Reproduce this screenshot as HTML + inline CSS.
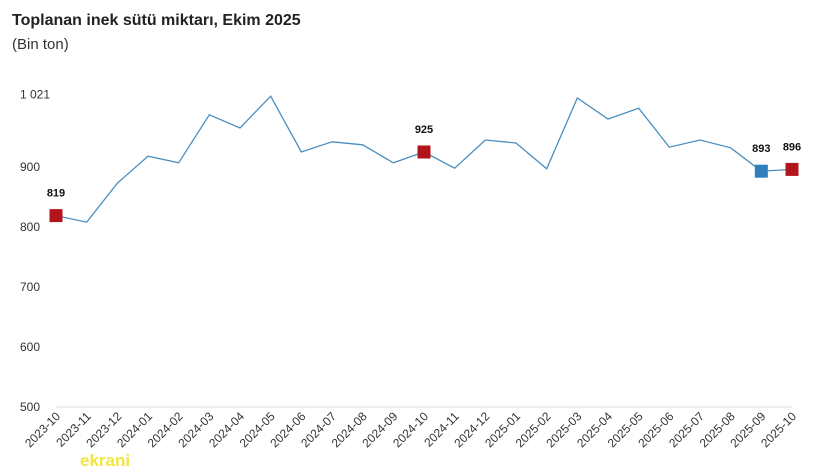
<!DOCTYPE html>
<html><head><meta charset="utf-8"><style>
body{margin:0;background:#fff;font-family:"Liberation Sans",sans-serif;}
</style></head><body>
<svg width="820" height="471" xmlns="http://www.w3.org/2000/svg">
<text x="12" y="25" font-size="16" font-weight="bold" fill="#222">Toplanan inek sütü miktarı, Ekim 2025</text>
<text x="12" y="49" font-size="15" fill="#333">(Bin ton)</text>
<g id="yaxis"></g>
<g id="xaxis"></g>
<g id="plot"></g>
<text x="80" y="466" font-size="17" font-weight="bold" fill="#f0e020" opacity="0.85">ekrani</text>
</svg>
<script>
const categories=["2023-10","2023-11","2023-12","2024-01","2024-02","2024-03","2024-04","2024-05","2024-06","2024-07","2024-08","2024-09","2024-10","2024-11","2024-12","2025-01","2025-02","2025-03","2025-04","2025-05","2025-06","2025-07","2025-08","2025-09","2025-10"];
const values=[819,808,873,918,907,987,965,1018,925,942,937,907,925,898,945,940,897,1015,980,998,933,945,932,893,896];
const yTicks=[500,600,700,800,900,1021];
const yTickLabels=["500","600","700","800","900","1 021"];
const highlighted=[0,12,23,24];
const NS="http://www.w3.org/2000/svg";
const x0=56,x1=792,yMin=500,yMax=1021,py0=407,py1=94.4;
const X=i=>x0+(x1-x0)*i/(categories.length-1);
const Y=v=>py0+(py1-py0)*(v-yMin)/(yMax-yMin);
function mk(tag,attrs,parent){const e=document.createElementNS(NS,tag);for(const k in attrs)e.setAttribute(k,attrs[k]);parent.appendChild(e);return e;}
const ya=document.getElementById('yaxis'),xa=document.getElementById('xaxis'),pl=document.getElementById('plot');
yTicks.forEach((t,i)=>{const e=mk('text',{x:20,y:Y(t)+4,'font-size':12,fill:'#333'},ya);e.textContent=yTickLabels[i];

});
const base=mk('line',{x1:x0,x2:x1,y1:py0,y2:py0,stroke:'#ddd'},xa);


categories.forEach((c,i)=>{const x=X(i);const e=mk('text',{x:x+5,y:py0+10,'font-size':12,fill:'#333','text-anchor':'end',transform:`rotate(-45 ${x+5} ${py0+10})`},xa);e.textContent=c;

});
const line=mk('polyline',{points:values.map((v,i)=>X(i)+','+Y(v)).join(' '),fill:'none',stroke:'#4a8fc0','stroke-width':1.3},pl);


highlighted.forEach(i=>{const x=X(i),y=Y(values[i]);const col=i===23?'#2f7fbf':'#b3131b';
const r=mk('rect',{x:x-6.5,y:y-6.5,width:13,height:13,fill:col},pl);


const t=mk('text',{x:x,y:y-19,'font-size':11,'font-weight':'bold',fill:'#111','text-anchor':'middle'},pl);t.textContent=values[i];

});
</script>
</body></html>
